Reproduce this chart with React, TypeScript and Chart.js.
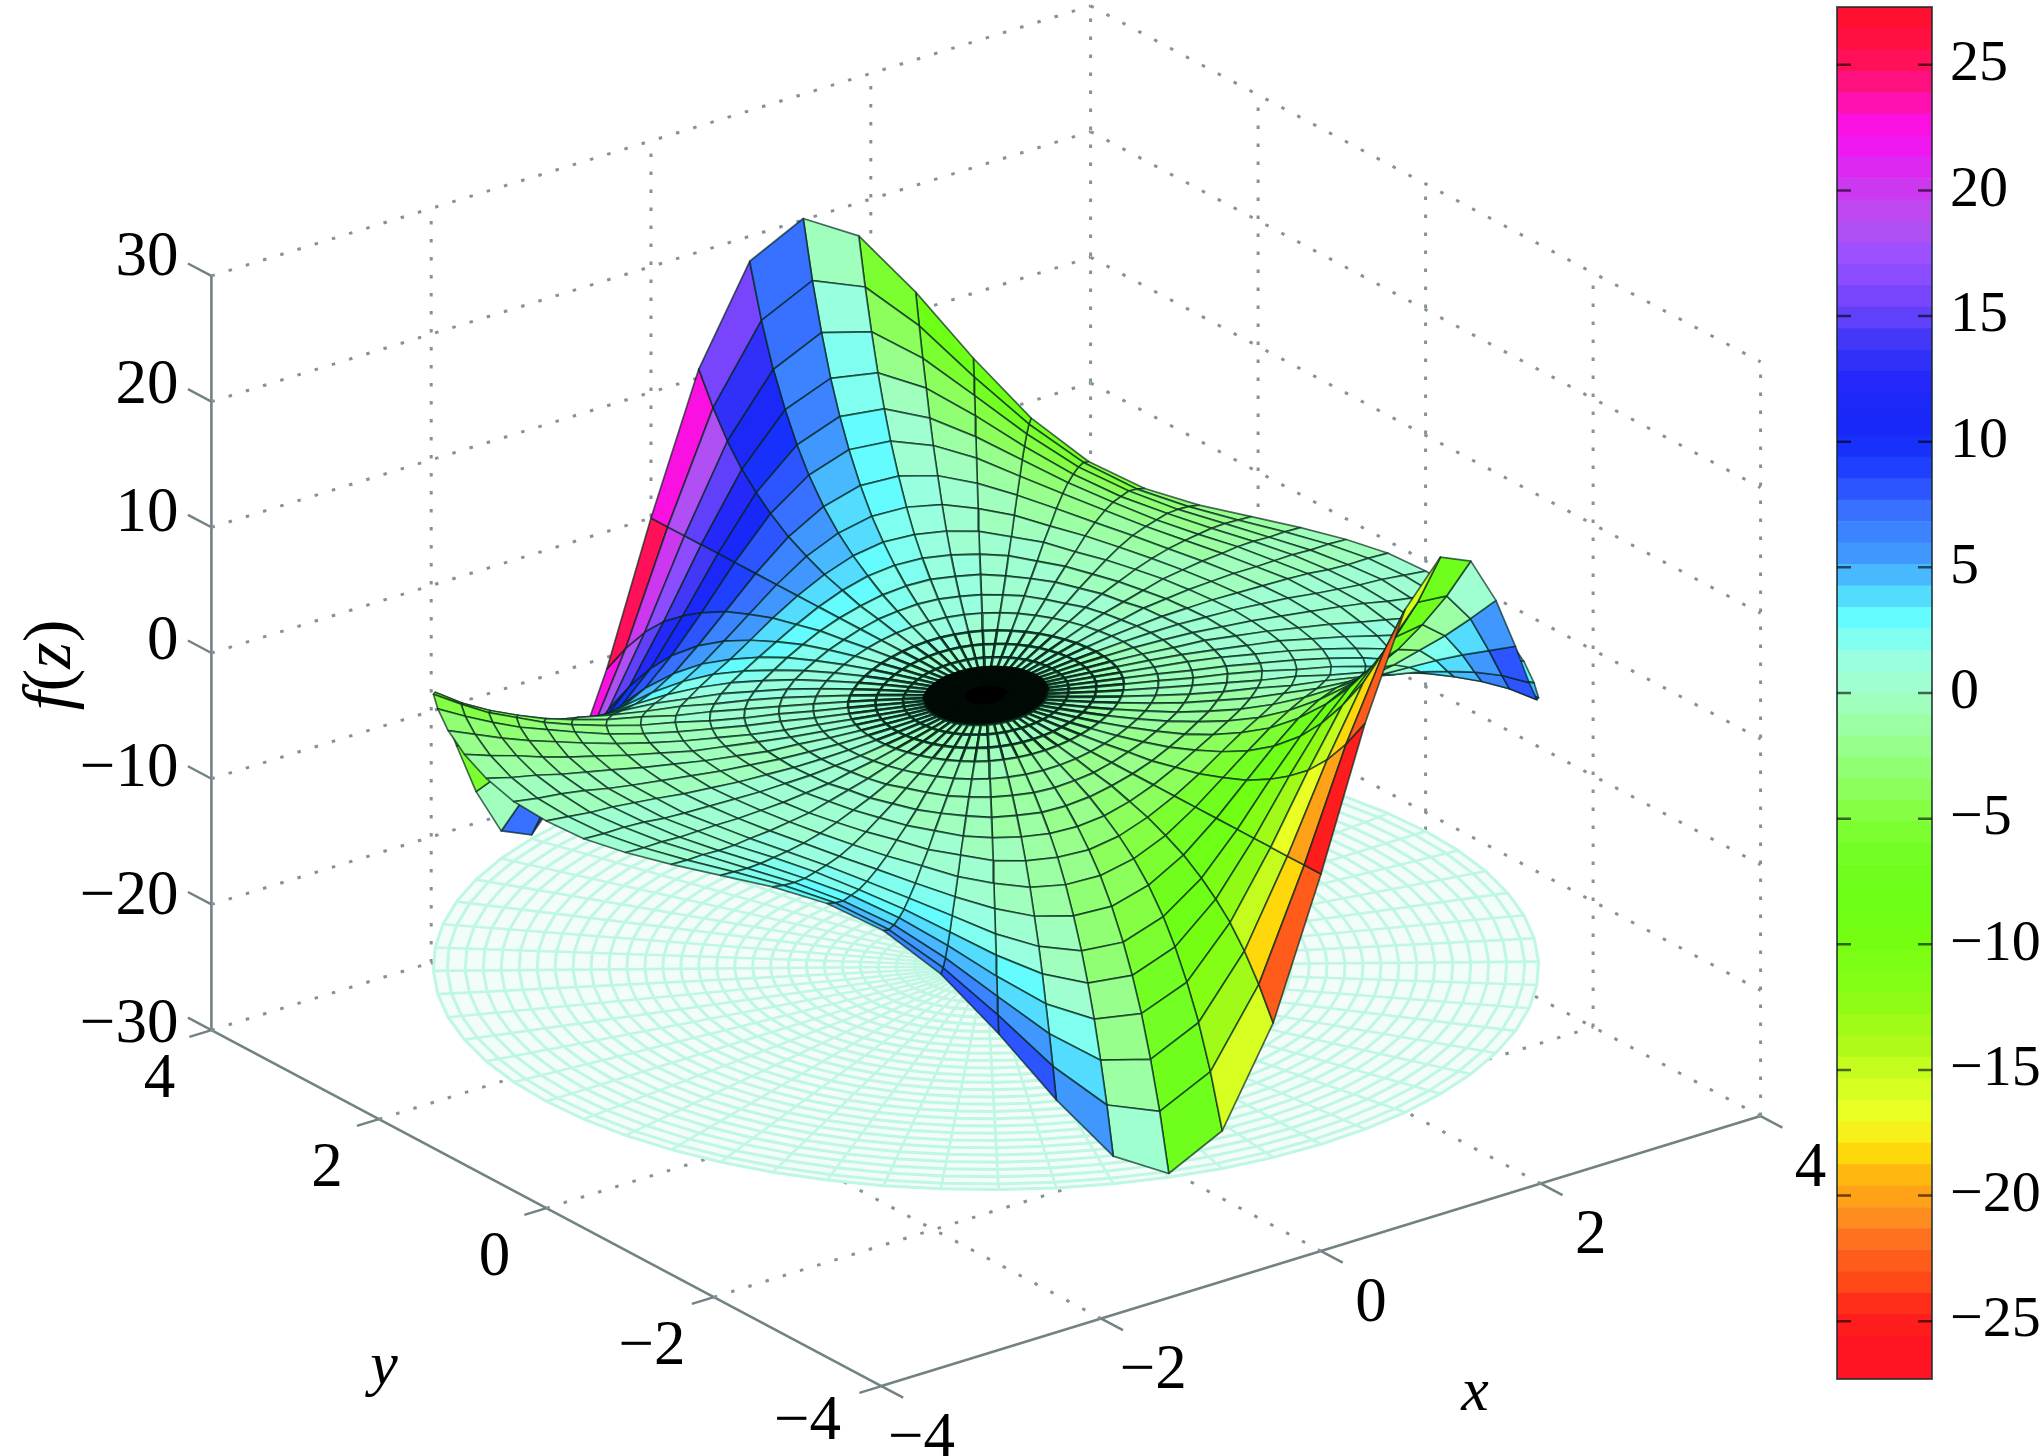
import React, { useEffect, useRef } from "react";
import { Chart, registerables } from "chart.js";

Chart.register(...registerables);

const xTicks = [-4, -2, 0, 2, 4];
const yTicks = [-4, -2, 0, 2, 4];
const zTicks = [-30, -20, -10, 0, 10, 20, 30];
const floorLevel = -21.5;
const colorMin = -27.3;
const colorMax = 27.3;

const angles = [0,6,12,18,24,30,36,42,48,54,60,66,72,78,84,90,96,102,108,114,120,126,132,138,144,150,156,162,168,174,180,186,192,198,204,210,216,222,228,234,240,246,252,258,264,270,276,282,288,294,300,306,312,318,324,330,336,342,348,354];
const radii = [.15,.3,.45,.6,.8,1,1.25,1.5,1.75,2,2.25,2.5,2.75,3,3.2,3.4,3.6,3.8,4];
const floorRadii = [.13,.26,.39,.52,.65,.78,.91,1.04,1.17,1.3,1.43,1.56,1.69,1.82,1.95,2.08,2.21,2.34,2.47,2.6,2.73,2.86,2.99,3.12,3.25,3.38,3.51,3.64,3.77,3.9,4];

// Hand-estimated values, typed literally: one row per ring in `radii`, one column per entry in `angles`.
// Rim values were read from the picture; interior rings are estimates guided by the shape fitted to it (Re/Im of sin z).
const heights = [
[.15,.15,.15,.14,.14,.13,.12,.11,.1,.09,.08,.06,.05,.03,.02,0,-.02,-.03,-.05,-.06,-.08,-.09,-.1,-.11,-.12,-.13,-.14,-.14,-.15,-.15,-.15,-.15,-.15,-.14,-.14,-.13,-.12,-.11,-.1,-.09,-.08,-.06,-.05,-.03,-.02,0,.02,.03,.05,.06,.08,.09,.1,.11,.12,.13,.14,.14,.15,.15],
[.3,.3,.29,.28,.27,.26,.24,.22,.2,.18,.15,.12,.09,.06,.03,0,-.03,-.06,-.09,-.12,-.15,-.18,-.2,-.22,-.24,-.26,-.27,-.28,-.29,-.3,-.3,-.3,-.29,-.28,-.27,-.26,-.24,-.22,-.2,-.18,-.15,-.12,-.09,-.06,-.03,0,.03,.06,.09,.12,.15,.18,.2,.22,.24,.26,.27,.28,.29,.3],
[.44,.43,.43,.42,.41,.39,.37,.34,.31,.28,.24,.2,.15,.1,.05,0,-.05,-.1,-.15,-.2,-.24,-.28,-.31,-.34,-.37,-.39,-.41,-.42,-.43,-.43,-.44,-.43,-.43,-.42,-.41,-.39,-.37,-.34,-.31,-.28,-.24,-.2,-.15,-.1,-.05,0,.05,.1,.15,.2,.24,.28,.31,.34,.37,.39,.41,.42,.43,.43],
[.56,.56,.56,.55,.54,.52,.5,.47,.43,.39,.34,.28,.21,.15,.07,0,-.07,-.15,-.21,-.28,-.34,-.39,-.43,-.47,-.5,-.52,-.54,-.55,-.56,-.56,-.56,-.56,-.56,-.55,-.54,-.52,-.5,-.47,-.43,-.39,-.34,-.28,-.21,-.15,-.07,0,.07,.15,.21,.28,.34,.39,.43,.47,.5,.52,.54,.55,.56,.56],
[.72,.72,.71,.71,.7,.69,.67,.64,.6,.55,.49,.41,.32,.22,.11,0,-.11,-.22,-.32,-.41,-.49,-.55,-.6,-.64,-.67,-.69,-.7,-.71,-.71,-.72,-.72,-.72,-.71,-.71,-.7,-.69,-.67,-.64,-.6,-.55,-.49,-.41,-.32,-.22,-.11,0,.11,.22,.32,.41,.49,.55,.6,.64,.67,.69,.7,.71,.71,.72],
[.84,.84,.85,.85,.86,.86,.85,.83,.8,.75,.67,.57,.45,.31,.16,0,-.16,-.31,-.45,-.57,-.67,-.75,-.8,-.83,-.85,-.86,-.86,-.85,-.85,-.84,-.84,-.84,-.85,-.85,-.86,-.86,-.85,-.83,-.8,-.75,-.67,-.57,-.45,-.31,-.16,0,.16,.31,.45,.57,.67,.75,.8,.83,.85,.86,.86,.85,.85,.84],
[.95,.96,.97,1,1.03,1.06,1.09,1.1,1.09,1.04,.96,.84,.68,.47,.25,0,-.25,-.47,-.68,-.84,-.96,-1.04,-1.09,-1.1,-1.09,-1.06,-1.03,-1,-.97,-.96,-.95,-.96,-.97,-1,-1.03,-1.06,-1.09,-1.1,-1.09,-1.04,-.96,-.84,-.68,-.47,-.25,0,.25,.47,.68,.84,.96,1.04,1.09,1.1,1.09,1.06,1.03,1,.97,.96],
[1,1,1,1.1,1.2,1.2,1.3,1.4,1.4,1.4,1.3,1.2,1,.7,.4,0,-.4,-.7,-1,-1.2,-1.3,-1.4,-1.4,-1.4,-1.3,-1.2,-1.2,-1.1,-1,-1,-1,-1,-1,-1.1,-1.2,-1.2,-1.3,-1.4,-1.4,-1.4,-1.3,-1.2,-1,-.7,-.4,0,.4,.7,1,1.2,1.3,1.4,1.4,1.4,1.3,1.2,1.2,1.1,1,1],
[1,1,1.1,1.1,1.3,1.4,1.6,1.7,1.8,1.9,1.8,1.7,1.4,1,.5,0,-.5,-1,-1.4,-1.7,-1.8,-1.9,-1.8,-1.7,-1.6,-1.4,-1.3,-1.1,-1.1,-1,-1,-1,-1.1,-1.1,-1.3,-1.4,-1.6,-1.7,-1.8,-1.9,-1.8,-1.7,-1.4,-1,-.5,0,.5,1,1.4,1.7,1.8,1.9,1.8,1.7,1.6,1.4,1.3,1.1,1.1,1],
[.9,.9,1,1.1,1.3,1.5,1.8,2,2.3,2.4,2.4,2.3,2,1.5,.8,0,-.8,-1.5,-2,-2.3,-2.4,-2.4,-2.3,-2,-1.8,-1.5,-1.3,-1.1,-1,-.9,-.9,-.9,-1,-1.1,-1.3,-1.5,-1.8,-2,-2.3,-2.4,-2.4,-2.3,-2,-1.5,-.8,0,.8,1.5,2,2.3,2.4,2.4,2.3,2,1.8,1.5,1.3,1.1,1,.9],
[.8,.8,.9,1.1,1.3,1.6,1.9,2.4,2.7,3.1,3.2,3.1,2.8,2.1,1.1,0,-1.1,-2.1,-2.8,-3.1,-3.2,-3.1,-2.7,-2.4,-1.9,-1.6,-1.3,-1.1,-.9,-.8,-.8,-.8,-.9,-1.1,-1.3,-1.6,-1.9,-2.4,-2.7,-3.1,-3.2,-3.1,-2.8,-2.1,-1.1,0,1.1,2.1,2.8,3.1,3.2,3.1,2.7,2.4,1.9,1.6,1.3,1.1,.9,.8],
[.6,.6,.7,.9,1.2,1.6,2.1,2.6,3.3,3.8,4.2,4.2,3.8,2.9,1.6,0,-1.6,-2.9,-3.8,-4.2,-4.2,-3.8,-3.3,-2.6,-2.1,-1.6,-1.2,-.9,-.7,-.6,-.6,-.6,-.7,-.9,-1.2,-1.6,-2.1,-2.6,-3.3,-3.8,-4.2,-4.2,-3.8,-2.9,-1.6,0,1.6,2.9,3.8,4.2,4.2,3.8,3.3,2.6,2.1,1.6,1.2,.9,.7,.6],
[.4,.4,.5,.7,1,1.5,2.1,2.9,3.8,4.7,5.4,5.6,5.2,4,2.2,0,-2.2,-4,-5.2,-5.6,-5.4,-4.7,-3.8,-2.9,-2.1,-1.5,-1,-.7,-.5,-.4,-.4,-.4,-.5,-.7,-1,-1.5,-2.1,-2.9,-3.8,-4.7,-5.4,-5.6,-5.2,-4,-2.2,0,2.2,4,5.2,5.6,5.4,4.7,3.8,2.9,2.1,1.5,1,.7,.5,.4],
[.1,.2,.2,.4,.7,1.2,2,3,4.2,5.6,6.7,7.3,7,5.5,3.1,0,-3.1,-5.5,-7,-7.3,-6.7,-5.6,-4.2,-3,-2,-1.2,-.7,-.4,-.2,-.2,-.1,-.2,-.2,-.4,-.7,-1.2,-2,-3,-4.2,-5.6,-6.7,-7.3,-7,-5.5,-3.1,0,3.1,5.5,7,7.3,6.7,5.6,4.2,3,2,1.2,.7,.4,.2,.2],
[-.1,0,0,.2,.4,.9,1.8,3,4.6,6.4,8,9,8.8,7.1,4,0,-4,-7.1,-8.8,-9,-8,-6.4,-4.6,-3,-1.8,-.9,-.4,-.2,0,0,.1,0,0,-.2,-.4,-.9,-1.8,-3,-4.6,-6.4,-8,-9,-8.8,-7.1,-4,0,4,7.1,8.8,9,8,6.4,4.6,3,1.8,.9,.4,.2,0,0],
[-.3,-.3,-.2,-.1,.1,.6,1.4,2.8,4.8,7.2,9.5,11,11,9.1,5.1,0,-5.1,-9.1,-11,-11,-9.5,-7.2,-4.8,-2.8,-1.4,-.6,-.1,.1,.2,.3,.3,.3,.2,.1,-.1,-.6,-1.4,-2.8,-4.8,-7.2,-9.5,-11,-11,-9.1,-5.1,0,5.1,9.1,11,11,9.5,7.2,4.8,2.8,1.4,.6,.1,-.1,-.2,-.3],
[-.4,-.5,-.5,-.5,-.3,.1,1,2.5,4.9,7.9,11,13.4,13.8,11.5,6.6,0,-6.6,-11.5,-13.8,-13.4,-11,-7.9,-4.9,-2.5,-1,-.1,.3,.5,.5,.5,.4,.5,.5,.5,.3,-.1,-1,-2.5,-4.9,-7.9,-11,-13.4,-13.8,-11.5,-6.6,0,6.6,11.5,13.8,13.4,11,7.9,4.9,2.5,1,.1,-.3,-.5,-.5,-.5],
[-.6,-.6,-.7,-.8,-.8,-.5,.3,2,4.8,8.5,12.7,16.1,17.1,14.6,8.5,0,-8.5,-14.6,-17.1,-16.1,-12.7,-8.5,-4.8,-2,-.3,.5,.8,.8,.7,.6,.6,.6,.7,.8,.8,.5,-.3,-2,-4.8,-8.5,-12.7,-16.1,-17.1,-14.6,-8.5,0,8.5,14.6,17.1,16.1,12.7,8.5,4.8,2,.3,-.5,-.8,-.8,-.7,-.6],
[-.8,-.8,-1,-1.2,-1.3,-1.2,-.5,1.2,4.4,9.1,14.5,19.3,21.2,18.5,10.8,0,-10.8,-18.5,-21.2,-19.3,-14.5,-9.1,-4.4,-1.2,.5,1.2,1.3,1.2,1,.8,.8,.8,1,1.2,1.3,1.2,.5,-1.2,-4.4,-9.1,-14.5,-19.3,-21.2,-18.5,-10.8,0,10.8,18.5,21.2,19.3,14.5,9.1,4.4,1.2,-.5,-1.2,-1.3,-1.2,-1,-.8],
];

const shades = [
[0,0,0,0,.1,.1,.1,.1,.1,.1,.1,.1,.1,.1,.1,.2,.1,.1,.1,.1,.1,.1,.1,.1,.1,.1,.1,0,0,0,0,0,0,0,-.1,-.1,-.1,-.1,-.1,-.1,-.1,-.1,-.1,-.1,-.1,-.2,-.1,-.1,-.1,-.1,-.1,-.1,-.1,-.1,-.1,-.1,-.1,0,0,0],
[0,0,.1,.1,.1,.2,.2,.2,.2,.2,.3,.3,.3,.3,.3,.3,.3,.3,.3,.3,.3,.2,.2,.2,.2,.2,.1,.1,.1,0,0,0,-.1,-.1,-.1,-.2,-.2,-.2,-.2,-.2,-.3,-.3,-.3,-.3,-.3,-.3,-.3,-.3,-.3,-.3,-.3,-.2,-.2,-.2,-.2,-.2,-.1,-.1,-.1,0],
[0,0,.1,.1,.2,.2,.3,.3,.3,.4,.4,.4,.4,.5,.5,.5,.5,.5,.4,.4,.4,.4,.3,.3,.3,.2,.2,.1,.1,0,0,0,-.1,-.1,-.2,-.2,-.3,-.3,-.3,-.4,-.4,-.4,-.4,-.5,-.5,-.5,-.5,-.5,-.4,-.4,-.4,-.4,-.3,-.3,-.3,-.2,-.2,-.1,-.1,0],
[0,.1,.1,.2,.2,.3,.3,.4,.4,.5,.5,.6,.6,.6,.6,.6,.6,.6,.6,.6,.5,.5,.4,.4,.3,.3,.2,.2,.1,.1,0,-.1,-.1,-.2,-.2,-.3,-.3,-.4,-.4,-.5,-.5,-.6,-.6,-.6,-.6,-.6,-.6,-.6,-.6,-.6,-.5,-.5,-.4,-.4,-.3,-.3,-.2,-.2,-.1,-.1],
[0,.1,.1,.2,.2,.3,.4,.5,.5,.6,.7,.8,.8,.9,.9,.9,.9,.9,.8,.8,.7,.6,.5,.5,.4,.3,.2,.2,.1,.1,0,-.1,-.1,-.2,-.2,-.3,-.4,-.5,-.5,-.6,-.7,-.8,-.8,-.9,-.9,-.9,-.9,-.9,-.8,-.8,-.7,-.6,-.5,-.5,-.4,-.3,-.2,-.2,-.1,-.1],
[0,.1,.1,.2,.3,.3,.4,.5,.6,.7,.9,1,1,1.1,1.2,1.2,1.2,1.1,1,1,.9,.7,.6,.5,.4,.3,.3,.2,.1,.1,0,-.1,-.1,-.2,-.3,-.3,-.4,-.5,-.6,-.7,-.9,-1,-1,-1.1,-1.2,-1.2,-1.2,-1.1,-1,-1,-.9,-.7,-.6,-.5,-.4,-.3,-.3,-.2,-.1,-.1],
[0,0,.1,.1,.2,.3,.4,.6,.7,.9,1.1,1.2,1.4,1.5,1.6,1.6,1.6,1.5,1.4,1.2,1.1,.9,.7,.6,.4,.3,.2,.1,.1,0,0,0,-.1,-.1,-.2,-.3,-.4,-.6,-.7,-.9,-1.1,-1.2,-1.4,-1.5,-1.6,-1.6,-1.6,-1.5,-1.4,-1.2,-1.1,-.9,-.7,-.6,-.4,-.3,-.2,-.1,-.1,0],
[0,0,0,.1,.1,.2,.3,.5,.7,1,1.2,1.5,1.8,2,2.1,2.1,2.1,2,1.8,1.5,1.2,1,.7,.5,.3,.2,.1,.1,0,0,0,0,0,-.1,-.1,-.2,-.3,-.5,-.7,-1,-1.2,-1.5,-1.8,-2,-2.1,-2.1,-2.1,-2,-1.8,-1.5,-1.2,-1,-.7,-.5,-.3,-.2,-.1,-.1,0,0],
[0,0,-.1,-.1,0,.1,.2,.4,.7,1,1.4,1.8,2.2,2.5,2.7,2.8,2.7,2.5,2.2,1.8,1.4,1,.7,.4,.2,.1,0,-.1,-.1,0,0,0,.1,.1,0,-.1,-.2,-.4,-.7,-1,-1.4,-1.8,-2.2,-2.5,-2.7,-2.8,-2.7,-2.5,-2.2,-1.8,-1.4,-1,-.7,-.4,-.2,-.1,0,.1,.1,0],
[0,-.1,-.2,-.2,-.2,-.2,-.1,.2,.5,.9,1.5,2.1,2.7,3.2,3.5,3.6,3.5,3.2,2.7,2.1,1.5,.9,.5,.2,-.1,-.2,-.2,-.2,-.2,-.1,0,.1,.2,.2,.2,.2,.1,-.2,-.5,-.9,-1.5,-2.1,-2.7,-3.2,-3.5,-3.6,-3.5,-3.2,-2.7,-2.1,-1.5,-.9,-.5,-.2,.1,.2,.2,.2,.2,.1],
[0,-.1,-.3,-.4,-.5,-.5,-.4,-.2,.2,.7,1.5,2.3,3.2,4,4.5,4.7,4.5,4,3.2,2.3,1.5,.7,.2,-.2,-.4,-.5,-.5,-.4,-.3,-.1,0,.1,.3,.4,.5,.5,.4,.2,-.2,-.7,-1.5,-2.3,-3.2,-4,-4.5,-4.7,-4.5,-4,-3.2,-2.3,-1.5,-.7,-.2,.2,.4,.5,.5,.4,.3,.1],
[0,-.2,-.4,-.6,-.8,-.9,-.9,-.7,-.3,.4,1.4,2.6,3.8,5,5.8,6.1,5.8,5,3.8,2.6,1.4,.4,-.3,-.7,-.9,-.9,-.8,-.6,-.4,-.2,0,.2,.4,.6,.8,.9,.9,.7,.3,-.4,-1.4,-2.6,-3.8,-5,-5.8,-6.1,-5.8,-5,-3.8,-2.6,-1.4,-.4,.3,.7,.9,.9,.8,.6,.4,.2],
[0,-.3,-.5,-.8,-1.1,-1.3,-1.5,-1.4,-1,-.2,1,2.7,4.5,6.2,7.4,7.8,7.4,6.2,4.5,2.7,1,-.2,-1,-1.4,-1.5,-1.3,-1.1,-.8,-.5,-.3,0,.3,.5,.8,1.1,1.3,1.5,1.4,1,.2,-1,-2.7,-4.5,-6.2,-7.4,-7.8,-7.4,-6.2,-4.5,-2.7,-1,.2,1,1.4,1.5,1.3,1.1,.8,.5,.3],
[0,-.3,-.7,-1,-1.4,-1.8,-2.1,-2.2,-1.9,-1.1,.5,2.7,5.2,7.6,9.4,10,9.4,7.6,5.2,2.7,.5,-1.1,-1.9,-2.2,-2.1,-1.8,-1.4,-1,-.7,-.3,0,.3,.7,1,1.4,1.8,2.1,2.2,1.9,1.1,-.5,-2.7,-5.2,-7.6,-9.4,-10,-9.4,-7.6,-5.2,-2.7,-.5,1.1,1.9,2.2,2.1,1.8,1.4,1,.7,.3],
[0,-.3,-.7,-1.2,-1.7,-2.2,-2.7,-3,-2.9,-2,-.2,2.5,5.8,9,11.4,12.3,11.4,9,5.8,2.5,-.2,-2,-2.9,-3,-2.7,-2.2,-1.7,-1.2,-.7,-.3,0,.3,.7,1.2,1.7,2.2,2.7,3,2.9,2,.2,-2.5,-5.8,-9,-11.4,-12.3,-11.4,-9,-5.8,-2.5,.2,2,2.9,3,2.7,2.2,1.7,1.2,.7,.3],
[0,-.4,-.8,-1.2,-1.9,-2.6,-3.3,-3.9,-4,-3.2,-1.2,2.1,6.3,10.6,13.8,15,13.8,10.6,6.3,2.1,-1.2,-3.2,-4,-3.9,-3.3,-2.6,-1.9,-1.2,-.8,-.4,0,.4,.8,1.2,1.9,2.6,3.3,3.9,4,3.2,1.2,-2.1,-6.3,-10.6,-13.8,-15,-13.8,-10.6,-6.3,-2.1,1.2,3.2,4,3.9,3.3,2.6,1.9,1.2,.8,.4],
[0,-.3,-.8,-1.3,-2,-2.9,-4,-4.9,-5.4,-4.8,-2.6,1.4,6.8,12.4,16.7,18.3,16.7,12.4,6.8,1.4,-2.6,-4.8,-5.4,-4.9,-4,-2.9,-2,-1.3,-.8,-.3,0,.3,.8,1.3,2,2.9,4,4.9,5.4,4.8,2.6,-1.4,-6.8,-12.4,-16.7,-18.3,-16.7,-12.4,-6.8,-1.4,2.6,4.8,5.4,4.9,4,2.9,2,1.3,.8,.3],
[0,-.3,-.7,-1.3,-2.1,-3.2,-4.6,-6,-6.9,-6.6,-4.3,.4,7.2,14.5,20.2,22.3,20.2,14.5,7.2,.4,-4.3,-6.6,-6.9,-6,-4.6,-3.2,-2.1,-1.3,-.7,-.3,0,.3,.7,1.3,2.1,3.2,4.6,6,6.9,6.6,4.3,-.4,-7.2,-14.5,-20.2,-22.3,-20.2,-14.5,-7.2,-.4,4.3,6.6,6.9,6,4.6,3.2,2.1,1.3,.7,.3],
[0,-.3,-.7,-1.2,-2.1,-3.4,-5.2,-7.1,-8.7,-8.9,-6.6,-1.1,7.4,16.8,24.4,27.3,24.4,16.8,7.4,-1.1,-6.6,-8.9,-8.7,-7.1,-5.2,-3.4,-2.1,-1.2,-.7,-.3,0,.3,.7,1.2,2.1,3.4,5.2,7.1,8.7,8.9,6.6,1.1,-7.4,-16.8,-24.4,-27.3,-24.4,-16.8,-7.4,1.1,6.6,8.9,8.7,7.1,5.2,3.4,2.1,1.2,.7,.3],
];

// Colour bar levels, bottom to top.
const colorLevels = ["#ff1424","#ff1422","#ff1c1c","#ff2e18","#ff4a18","#ff5c1c","#ff7020","#ff8c1e","#ffa218","#ffb810","#ffd80c","#f8f01a","#eaff24","#d8ff22","#c4fc1e","#b0fa1a","#a0fb18","#90fc16","#84fe14","#7cff14","#74ff12","#70ff12","#6eff16","#70ff1c","#74ff24","#7cff30","#84ff44","#8cff5c","#90ff74","#98ff8c","#9cffa4","#a0ffbc","#a0ffd0","#98ffe0","#80fff0","#64fcff","#54dcff","#48b8ff","#4098ff","#3c84ff","#3870ff","#2c54ff","#2040ff","#1830fc","#1828f8","#1c28f8","#2428f8","#3030f8","#4438f8","#6040fa","#7844fc","#8c4cff","#9c50ff","#b050f4","#c048f0","#cc38f0","#dc28f0","#f018f0","#fa10e0","#ff10b0","#ff1080","#ff1058","#ff1040","#ff1030"];

const W = 2043;
const H = 1456;
const FONT = '"Liberation Serif"';
const levelStep = (colorMax - colorMin) / colorLevels.length;

const project = (x: number, y: number, z: number) => ({
  x: 986 + 109.9 * x - 83.75 * y,
  y: 696 - 33.75 * x - 44.5 * y - 12.57 * z,
});
const farness = (x: number, y: number, z: number) => 0.915 * (83.75 * x + 109.9 * y) - 5.54 * z;
const colorOf = (v: number) => {
  const i = Math.max(0, Math.min(colorLevels.length - 1, Math.floor((v - colorMin) / levelStep)));
  return colorLevels[i];
};
const polar = (r: number, deg: number) => {
  const a = (deg * Math.PI) / 180;
  return [r * Math.cos(a), r * Math.sin(a)];
};
const minus = (v: number) => String(v).replace("-", "\u2212");

function lineSet(points: { x: number; y: number }[], color: string, width: number, dash: number[] = []) {
  return {
    data: points, showLine: true, fill: false, borderColor: color, borderWidth: width,
    borderDash: dash, pointRadius: 0, backgroundColor: "transparent",
  };
}

function surfaceSets() {
  const items: { far: number; set: any }[] = [];
  const n = angles.length;
  const first = angles.map((a, j) => {
    const [x, y] = polar(radii[0], a);
    return project(x, y, heights[0][j]);
  });
  items.push({
    far: 0,
    set: { data: [...first, first[0]], showLine: true, fill: "shape", backgroundColor: "#000000", borderColor: "#000000", borderWidth: 2, pointRadius: 0 },
  });
  for (let i = 0; i < radii.length - 1; i++) {
    for (let j = 0; j < n; j++) {
      const k = (j + 1) % n;
      const corners: [number, number, number][] = [
        [radii[i], angles[j], heights[i][j]],
        [radii[i + 1], angles[j], heights[i + 1][j]],
        [radii[i + 1], angles[k], heights[i + 1][k]],
        [radii[i], angles[k], heights[i][k]],
      ];
      let far = 0;
      const pts = corners.map(([r, a, z]) => {
        const [x, y] = polar(r, a);
        far += farness(x, y, z) / 4;
        return project(x, y, z);
      });
      const core = i <= 1;
      items.push({
        far,
        set: {
          data: [...pts, pts[0]], showLine: true, fill: "shape", pointRadius: 0,
          backgroundColor: core ? "#020a06" : colorOf((shades[i][j] + shades[i + 1][j]) / 2),
          borderColor: core ? "#020a06" : i < 5 ? "rgba(0,35,25,0.85)" : "rgba(0,35,25,0.68)",
          borderWidth: i < 5 ? 2.6 : i < 9 ? 2 : 1.7,
          borderJoinStyle: "round",
        },
      });
    }
  }
  items.sort((a, b) => a.far - b.far);
  return items.map((it) => it.set);
}

function floorSets() {
  const sets: any[] = [];
  const ring = (r: number) => {
    const pts = angles.map((a) => {
      const [x, y] = polar(r, a);
      return project(x, y, floorLevel);
    });
    return [...pts, pts[0]];
  };
  const pale = "#bff7e3";
  floorRadii.forEach((r) => sets.push(lineSet(ring(r), pale, 3)));
  angles.forEach((a) => {
    const [x, y] = polar(floorRadii[floorRadii.length - 1], a);
    sets.push(lineSet([project(0, 0, floorLevel), project(x, y, floorLevel)], pale, 2.6));
  });
  sets.push({ data: ring(4), showLine: true, fill: "shape", backgroundColor: "#f2fdf9", borderColor: pale, borderWidth: 2, pointRadius: 0 });
  return sets;
}

function boxSets() {
  const dot = "#84929a";
  const dash = [3.5, 14.5];
  const solid = "#728282";
  const sets: any[] = [];
  const zLo = zTicks[0];
  const zHi = zTicks[zTicks.length - 1];
  const xLo = xTicks[0];
  const xHi = xTicks[xTicks.length - 1];
  const yLo = yTicks[0];
  const yHi = yTicks[yTicks.length - 1];
  xTicks.slice(1).forEach((v) => {
    sets.push(lineSet([project(v, yLo, zLo), project(v, yHi, zLo)], dot, 3, dash));
    sets.push(lineSet([project(v, yHi, zLo), project(v, yHi, zHi)], dot, 3, dash));
  });
  yTicks.slice(1).forEach((v) => sets.push(lineSet([project(xLo, v, zLo), project(xHi, v, zLo)], dot, 3, dash)));
  yTicks.slice(0, -1).forEach((v) => sets.push(lineSet([project(xHi, v, zLo), project(xHi, v, zHi)], dot, 3, dash)));
  zTicks.slice(1).forEach((v) => {
    sets.push(lineSet([project(xLo, yHi, v), project(xHi, yHi, v)], dot, 3, dash));
    sets.push(lineSet([project(xHi, yHi, v), project(xHi, yLo, v)], dot, 3, dash));
  });
  sets.push(lineSet([project(xLo, yHi, zLo), project(xLo, yHi, zHi)], solid, 2.6));
  sets.push(lineSet([project(xLo, yHi, zLo), project(xLo, yLo, zLo)], solid, 2.6));
  sets.push(lineSet([project(xLo, yLo, zLo), project(xHi, yLo, zLo)], solid, 2.6));
  zTicks.forEach((v) => sets.push(lineSet([project(xLo, yHi, v), project(xLo, yHi + 0.28, v)], solid, 2.4)));
  yTicks.forEach((v) => sets.push(lineSet([project(xLo, v, zLo), project(xLo - 0.2, v, zLo)], solid, 2.4)));
  xTicks.forEach((v) => sets.push(lineSet([project(v, yLo, zLo), project(v, yLo - 0.26, zLo)], solid, 2.4)));
  return sets;
}

const labelsPlugin = {
  id: "axisText",
  afterDraw(chart: any) {
    const ctx = chart.ctx;
    ctx.save();
    ctx.fillStyle = "#000";
    ctx.textBaseline = "middle";
    ctx.font = `63px ${FONT}`;
    ctx.textAlign = "right";
    zTicks.forEach((v) => {
      const p = project(xTicks[0], yTicks[4], v);
      ctx.fillText(minus(v), p.x - 33, p.y - 11 - v * 0.2);
    });
    ctx.textAlign = "center";
    xTicks.forEach((v) => {
      const p = project(v, yTicks[0], zTicks[0]);
      ctx.fillText(minus(v), p.x + (v === -2 ? 52 : v < 0 ? 40 : 50), p.y + 53);
    });
    yTicks.forEach((v) => {
      const p = project(xTicks[0], v, zTicks[0]);
      ctx.fillText(minus(v), p.x - (v === -4 ? 74 : v < 0 ? 62 : 52), p.y + (v === -4 ? 36 : 50));
    });
    ctx.font = `italic 62px ${FONT}`;
    ctx.fillText("x", 1475, 1394);
    ctx.fillText("y", 384, 1368);
    ctx.translate(52, 665);
    ctx.rotate(-Math.PI / 2);
    const parts: [string, string][] = [["f", `italic 68px ${FONT}`], ["(", `68px ${FONT}`], ["z", `italic 68px ${FONT}`], [")", `68px ${FONT}`]];
    let total = 0;
    parts.forEach(([t, f]) => { ctx.font = f; total += ctx.measureText(t).width; });
    let cursor = -total / 2;
    ctx.textAlign = "left";
    parts.forEach(([t, f]) => { ctx.font = f; ctx.fillText(t, cursor, 0); cursor += ctx.measureText(t).width; });
    ctx.restore();
  },
};

const barFrame = {
  id: "barFrame",
  afterDatasetsDraw(chart: any) {
    const { ctx, chartArea: a, scales } = chart;
    ctx.save();
    ctx.strokeStyle = "rgba(20,40,40,0.75)";
    ctx.lineWidth = 2;
    ctx.strokeRect(a.left, a.top, a.right - a.left, a.bottom - a.top);
    ctx.strokeStyle = "rgba(0,0,0,0.6)";
    ctx.lineWidth = 2.5;
    scales.y.ticks.forEach((t: any) => {
      const y = scales.y.getPixelForValue(t.value);
      ctx.beginPath();
      ctx.moveTo(a.left, y); ctx.lineTo(a.left + 14, y);
      ctx.moveTo(a.right - 14, y); ctx.lineTo(a.right, y);
      ctx.stroke();
    });
    ctx.restore();
  },
};

export default function App() {
  const mainRef = useRef<HTMLCanvasElement>(null);
  const barRef = useRef<HTMLCanvasElement>(null);
  useEffect(() => {
    document.body.style.margin = "0";
    const main = new Chart(mainRef.current as any, {
      type: "scatter",
      data: { datasets: [...surfaceSets(), ...floorSets(), ...boxSets()] as any },
      plugins: [labelsPlugin],
      options: {
        responsive: false, animation: false, parsing: false, events: [],
        layout: { padding: 0 },
        plugins: { legend: { display: false }, tooltip: { enabled: false } },
        scales: {
          x: { type: "linear", min: 0, max: W, display: false },
          y: { type: "linear", min: 0, max: H, reverse: true, display: false },
        },
      } as any,
    });
    const bar = new Chart(barRef.current as any, {
      type: "bar",
      data: {
        labels: ["f"],
        datasets: colorLevels.map((c, i) => ({
          data: [[colorMin + i * levelStep, colorMin + (i + 1) * levelStep]],
          backgroundColor: c, borderWidth: 0, barPercentage: 1, categoryPercentage: 1, grouped: false,
        })) as any,
      },
      plugins: [barFrame],
      options: {
        responsive: false, animation: false, events: [],
        layout: { padding: { left: 7, top: 7, bottom: 77, right: 0 } },
        plugins: { legend: { display: false }, tooltip: { enabled: false } },
        scales: {
          x: { display: false },
          y: {
            position: "right", min: colorMin, max: colorMax,
            grid: { display: false, drawTicks: false }, border: { display: false },
            afterFit: (s: any) => { s.width = 111; s.paddingTop = 0; s.paddingBottom = 0; },
            ticks: {
              stepSize: 5, includeBounds: false, autoSkip: false, padding: 18, color: "#000",
              font: { family: "Liberation Serif", size: 58 },
              callback: (v: any) => minus(v),
            },
          },
        },
      } as any,
    });
    return () => { main.destroy(); bar.destroy(); };
  }, []);
  return (
    <div style={{ position: "relative", width: W, height: H, background: "#fff", overflow: "hidden" }}>
      <canvas ref={mainRef} width={W} height={H} style={{ position: "absolute", left: 0, top: 0, display: "block" }} />
      <canvas ref={barRef} width={213} height={H} style={{ position: "absolute", left: 1830, top: 0, display: "block" }} />
    </div>
  );
}
